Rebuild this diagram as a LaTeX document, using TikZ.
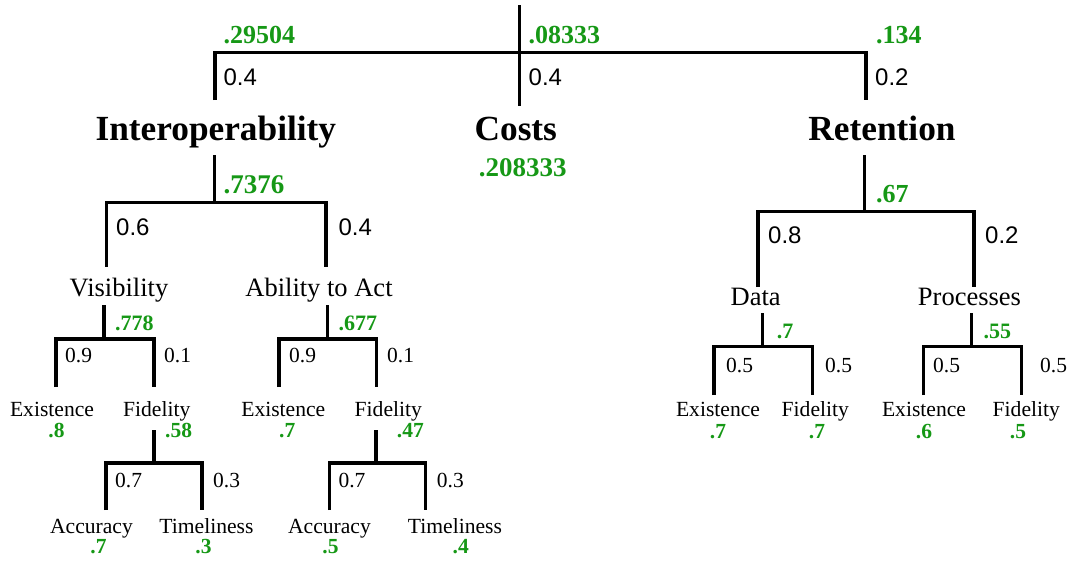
\documentclass[tikz,border=0pt]{standalone}
\usepackage{fontspec}
\setmainfont{Liberation Serif}
\newfontfamily\wsans{Liberation Sans}
\definecolor{scoregreen}{RGB}{22,152,22}
\begin{document}
\begin{tikzpicture}[x=1pt,y=-1pt,
  wire/.style={line width=3.4pt,line join=miter,line cap=butt},
  lbl/.style={inner sep=0pt,anchor=base},
  lblw/.style={inner sep=0pt,anchor=base west},
  toptitle/.style={font=\bfseries\fontsize{35.3}{35.3}\selectfont},
  midname/.style={font=\fontsize{26.5}{26.5}\selectfont},
  leafname/.style={font=\fontsize{21.6}{21.6}\selectfont},
  wtsans/.style={font=\wsans\fontsize{24}{24}\selectfont},
  wtserif/.style={font=\fontsize{21.5}{21.5}\selectfont},
  scoreA/.style={text=scoregreen,font=\bfseries\fontsize{26}{26}\selectfont},
  scoreB/.style={text=scoregreen,font=\bfseries\fontsize{27}{27}\selectfont},
  scoreC/.style={text=scoregreen,font=\bfseries\fontsize{22}{22}\selectfont},
  scoreD/.style={text=scoregreen,font=\bfseries\fontsize{21.5}{21.5}\selectfont}]
\useasboundingbox (0,0) rectangle (1070,560);

% ---------- root level ----------
\node[lbl,toptitle] (inter) at (215.8,140) {Interoperability};
\node[lbl,toptitle] (costs) at (515.8,140) {Costs};
\node[lbl,toptitle] (reten) at (882,140) {Retention};

\coordinate (root) at (519.3,5);
\coordinate (rootj) at (519.3,52.7);
\coordinate (interT) at (215,100);
\coordinate (costsT) at (519.3,106);
\coordinate (retenT) at (866,100);
\draw[wire] (root) -- (costsT);
\draw[wire] (interT) |- (rootj) -| (retenT);

\node[lblw,scoreA] (sInter) at (223.3,43.3) {.29504};
\node[lblw,wtsans] (wInter) at (223.3,85) {0.4};
\node[lblw,scoreA] (sCostsTop) at (528.5,43.3) {.08333};
\node[lblw,wtsans] (wCosts) at (528.5,85) {0.4};
\node[lblw,scoreA] (sReten) at (876,43.3) {.134};
\node[lblw,wtsans] (wReten) at (875,85) {0.2};
\node[lbl,scoreB] (sCosts) at (522.8,176.7) {.208333};

% ---------- Interoperability ----------
\coordinate (interB) at (214.3,155);
\coordinate (interJ) at (214.3,202.3);
\coordinate (visT) at (106.7,266.7);
\coordinate (ablT) at (326,266.7);
\draw[wire] (interB) -- (interJ);
\draw[wire] (visT) |- (interJ) -| (ablT);
\node[lblw,scoreB] at (223.3,193.3) {.7376};
\node[lblw,wtsans] at (116,235) {0.6};
\node[lblw,wtsans] at (338.3,235) {0.4};

\node[lbl,midname] (vis) at (119,296) {Visibility};
\node[lbl,midname] (abl) at (319,296) {Ability to Act};

% Visibility
\coordinate (visB) at (104,305);
\coordinate (visJ) at (104,339);
\coordinate (vExT) at (56,387);
\coordinate (vFiT) at (154,387);
\draw[wire] (visB) -- (visJ);
\draw[wire] (vExT) |- (visJ) -| (vFiT);
\node[lblw,scoreC] at (115,330) {.778};
\node[lblw,wtserif] at (65,362.7) {0.9};
\node[lblw,wtserif] at (164,362.7) {0.1};

\node[lbl,leafname] (vEx) at (52,416) {Existence};
\node[lbl,scoreD] at (56.5,437) {.8};
\node[lbl,leafname] (vFi) at (156.7,416) {Fidelity};
\node[lblw,scoreD] at (165,437) {.58};

\coordinate (vFiB) at (154,430);
\coordinate (vFiJ) at (154,463);
\coordinate (vAcT) at (106,510);
\coordinate (vTiT) at (202,510);
\draw[wire] (vFiB) -- (vFiJ);
\draw[wire] (vAcT) |- (vFiJ) -| (vTiT);
\node[lblw,wtserif] at (115,487) {0.7};
\node[lblw,wtserif] at (213,487) {0.3};
\node[lbl,leafname] (vAc) at (91.5,533) {Accuracy};
\node[lbl,scoreD] at (98.5,553) {.7};
\node[lbl,leafname] (vTi) at (206.5,533) {Timeliness};
\node[lbl,scoreD] at (203.5,553) {.3};

% Ability to Act
\coordinate (ablB) at (327.7,305);
\coordinate (ablJ) at (327.7,339);
\coordinate (aExT) at (279,387);
\coordinate (aFiT) at (376.7,387);
\draw[wire] (ablB) -- (ablJ);
\draw[wire] (aExT) |- (ablJ) -| (aFiT);
\node[lblw,scoreC] at (338.3,330) {.677};
\node[lblw,wtserif] at (289,362.7) {0.9};
\node[lblw,wtserif] at (387,362.7) {0.1};

\node[lbl,leafname] (aEx) at (283.3,416) {Existence};
\node[lbl,scoreD] at (287.3,437) {.7};
\node[lbl,leafname] (aFi) at (388.3,416) {Fidelity};
\node[lblw,scoreD] at (396.7,437) {.47};

\coordinate (aFiB) at (376,430);
\coordinate (aFiJ) at (376,463);
\coordinate (aAcT) at (329.3,510);
\coordinate (aTiT) at (425.7,510);
\draw[wire] (aFiB) -- (aFiJ);
\draw[wire] (aAcT) |- (aFiJ) -| (aTiT);
\node[lblw,wtserif] at (338.3,487) {0.7};
\node[lblw,wtserif] at (436.7,487) {0.3};
\node[lbl,leafname] (aAc) at (329.5,533) {Accuracy};
\node[lbl,scoreD] at (330.5,553) {.5};
\node[lbl,leafname] (aTi) at (455,533) {Timeliness};
\node[lbl,scoreD] at (460.8,553) {.4};

% ---------- Retention ----------
\coordinate (retenB) at (864.3,155);
\coordinate (retenJ) at (864.3,211.7);
\coordinate (dataT) at (758,287);
\coordinate (procT) at (974,287);
\draw[wire] (retenB) -- (retenJ);
\draw[wire] (dataT) |- (retenJ) -| (procT);
\node[lblw,scoreA] at (876,202.7) {.67};
\node[lblw,wtsans] at (768,243) {0.8};
\node[lblw,wtsans] at (985,243) {0.2};

\node[lbl,midname] (data) at (755.7,305) {Data};
\node[lbl,midname] (proc) at (969.5,305) {Processes};

% Data
\coordinate (dataB) at (762.3,313);
\coordinate (dataJ) at (762.3,346.7);
\coordinate (dExT) at (714,395);
\coordinate (dFiT) at (812.7,395);
\draw[wire] (dataB) -- (dataJ);
\draw[wire] (dExT) |- (dataJ) -| (dFiT);
\node[lblw,scoreC] at (776.7,338) {.7};
\node[lblw,wtserif] at (726,372.7) {0.5};
\node[lblw,wtserif] at (825,372.7) {0.5};
\node[lbl,leafname] (dEx) at (718,416) {Existence};
\node[lbl,scoreD] at (718,438) {.7};
\node[lbl,leafname] (dFi) at (815.3,416) {Fidelity};
\node[lbl,scoreD] at (817,438) {.7};

% Processes
\coordinate (procB) at (971.7,313);
\coordinate (procJ) at (971.7,346.7);
\coordinate (pExT) at (923.3,395);
\coordinate (pFiT) at (1021.7,395);
\draw[wire] (procB) -- (procJ);
\draw[wire] (pExT) |- (procJ) -| (pFiT);
\node[lblw,scoreC] at (983.3,338) {.55};
\node[lblw,wtserif] at (933,372.7) {0.5};
\node[lblw,wtserif] at (1040,372.7) {0.5};
\node[lbl,leafname] (pEx) at (924,416) {Existence};
\node[lbl,scoreD] at (924,438) {.6};
\node[lbl,leafname] (pFi) at (1026.3,416) {Fidelity};
\node[lbl,scoreD] at (1018,438) {.5};
\end{tikzpicture}
\end{document}
